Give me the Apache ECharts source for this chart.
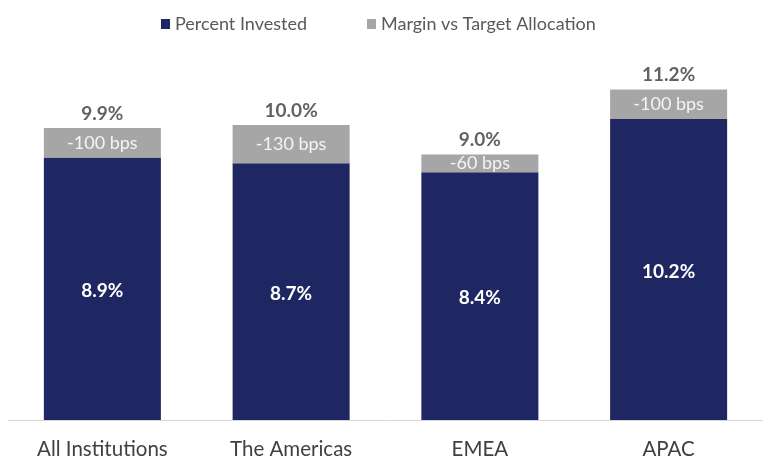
<!DOCTYPE html>
<html>
<head>
<meta charset="utf-8">
<script src="https://cdn.jsdelivr.net/npm/echarts@6/dist/echarts.min.js"></script>
<style>
  html, body { margin: 0; padding: 0; background: #fff; }
  #chart { width: 763px; height: 460px; }
</style>
</head>
<body>
<div id="chart"></div>
<script>
// categories and values
const regions = ['All Institutions', 'The Americas', 'EMEA', 'APAC']
const percentInvested = [8.9, 8.7, 8.4, 10.2]
const marginVsTarget = [1.0, 1.3, 0.6, 1.0]
const marginLabels = ['-100 bps', '-130 bps', '-60 bps', '-100 bps']
const targetTotals = [9.9, 10.0, 9.0, 11.2]

const navy = '#1e2761'
const grey = '#a6a6a6'
const font = 'Lato, "Open Sans", sans-serif'

const chart = echarts.init(document.getElementById('chart'))

chart.setOption({
  backgroundColor: '#fff',
  animation: false,
  textStyle: { fontFamily: font },
  legend: {
    data: ['Percent Invested', 'Margin vs Target Allocation'],
    top: 10,
    left: 156,
    itemWidth: 9,
    itemHeight: 10,
    itemGap: 60,
    icon: 'rect',
    textStyle: { fontSize: 18, color: '#595959', fontFamily: font }
  },
  grid: { left: 8, right: -4, top: 66, bottom: 38 },
  xAxis: {
    type: 'category',
    data: regions,
    axisLine: { lineStyle: { color: '#d9d9d9', width: 1 } },
    axisTick: { show: false },
    axisLabel: { fontSize: 20.5, color: '#404040', margin: 19, fontFamily: font }
  },
  yAxis: {
    type: 'value',
    min: 0,
    max: 12,
    show: false,
    splitLine: { show: false }
  },
  series: [
    {
      name: 'Percent Invested',
      type: 'bar',
      stack: 'alloc',
      barWidth: '62%',
      data: percentInvested,
      itemStyle: { color: navy },
      label: {
        show: true,
        position: 'inside',
        offset: [0, 2],
        formatter: p => p.value.toFixed(1) + '%',
        color: '#fff',
        fontWeight: 'bold',
        fontSize: 19,
        fontFamily: font
      }
    },
    {
      name: 'Margin vs Target Allocation',
      type: 'bar',
      stack: 'alloc',
      data: marginVsTarget,
      itemStyle: { color: grey },
      label: {
        show: true,
        position: 'inside',
        formatter: p => marginLabels[p.dataIndex],
        color: '#f4f4f4',
        fontSize: 18,
        fontFamily: font
      }
    },
    {
      name: 'total',
      type: 'scatter',
      data: targetTotals,
      symbolSize: 0,
      silent: true,
      label: {
        show: true,
        position: 'top',
        distance: 5,
        formatter: p => p.value.toFixed(1) + '%',
        color: '#3a3a3a',
        fontWeight: 'bold',
        fontSize: 19,
        fontFamily: font
      }
    }
  ]
})
</script>
</body>
</html>
